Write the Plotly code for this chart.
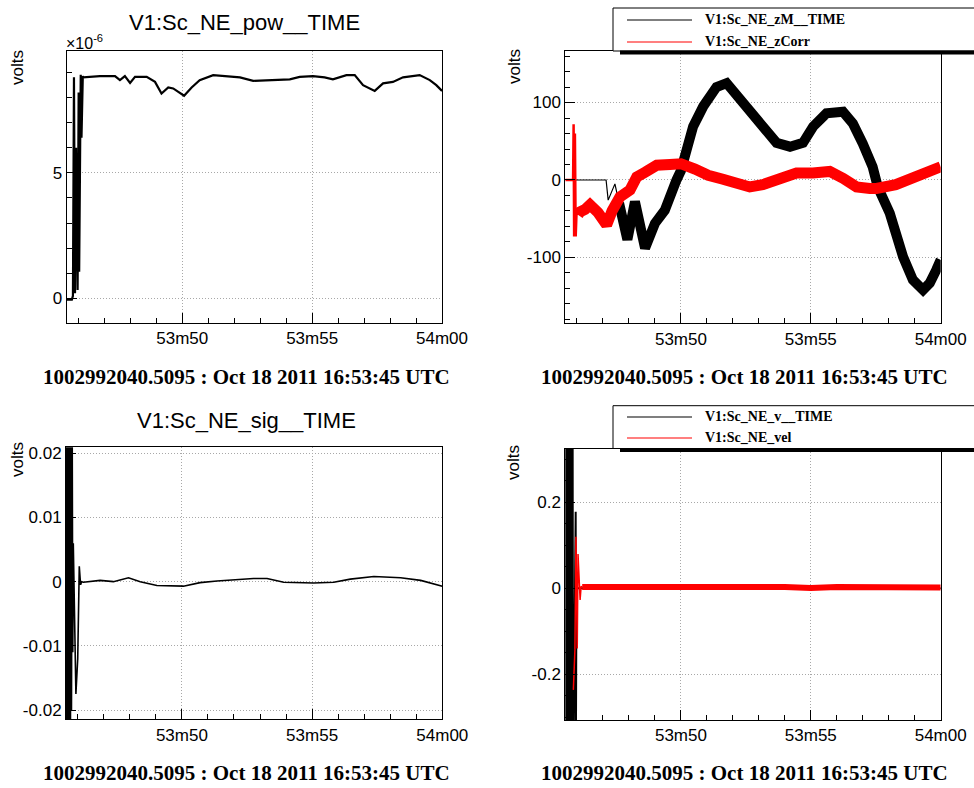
import plotly.graph_objects as go

W, H = 974, 788


def px(x):
    return x / W


def py(y):
    return 1 - y / H


SANS = "Liberation Sans, Arial, sans-serif"
SERIF = "Liberation Serif, Times New Roman, serif"

# ---------------- shared time axis (seconds of 16:53) ----------------
T0, T1 = 45.55, 60.0
X_TICKVALS = [50, 55, 60]
X_TICKTEXT = ["53m50", "53m55", "54m00"]
DATE_LABEL = "1002992040.5095 : Oct 18 2011 16:53:45 UTC"

# ---------------- panel 1: V1:Sc_NE_pow__TIME (units of 1e-6) ----------------
pow_t = [45.55, 45.75, 45.79, 45.83, 45.87, 45.91, 45.97, 46.01, 46.03, 46.05,
         46.09, 46.12, 46.17, 46.19, 46.83, 47.41, 47.60, 47.79, 47.99, 48.18,
         48.63, 48.95, 49.20, 49.46, 49.65, 49.84, 50.07, 50.36, 50.67, 51.19,
         51.70, 52.22, 52.73, 53.50, 54.14, 54.52, 55.03, 55.48, 55.80, 56.32,
         56.64, 56.96, 57.41, 57.73, 58.11, 58.50, 59.14, 59.53, 59.78, 60.0]
pow_v = [-0.05, -0.05, 0.1, 8.8, 0.2, 6.0, 0.33, 8.2, 1.06, 5.4,
         8.9, 6.4, 8.85, 8.80, 8.85, 8.85, 8.69, 8.85, 8.58, 8.82,
         8.82, 8.62, 8.16, 8.40, 8.36, 8.22, 8.07, 8.40, 8.69, 8.89,
         8.85, 8.80, 8.66, 8.69, 8.72, 8.82, 8.85, 8.80, 8.72, 8.89,
         8.89, 8.49, 8.26, 8.56, 8.62, 8.80, 8.89, 8.69, 8.49, 8.26]

# ---------------- panel 2: zM__TIME (black) and zCorr (red) ----------------
zm_quiet_t = [45.85, 47.12, 47.20, 47.46, 47.62]
zm_quiet_v = [0, 0, -26, -5, -30]
zm_t = [47.62, 47.94, 48.23, 48.62, 49.0, 49.38, 49.83, 50.0, 50.23,
        50.47, 50.86, 51.37, 51.76, 52.20, 52.65, 53.15, 53.68, 54.20, 54.70,
        55.09, 55.60, 56.24, 56.62, 57.0, 57.38, 57.58, 57.78, 58.04, 58.55,
        58.93, 59.32, 59.58, 59.83, 60.0]
zm_v = [-30, -77, -28, -88, -56, -39, 0, 12, 40,
        69, 95, 120, 125, 107, 90, 65, 48, 43, 48,
        69, 86, 88, 73, 47, 17, -9, -26, -43, -99,
        -129, -142, -133, -116, -103]

zcorr_spike_t = [45.55, 45.85, 45.87, 45.89, 45.92, 45.95, 45.98, 46.04]
zcorr_spike_v = [0, 0, 72, -73, 60, -73, -45, -41]
zcorr_t = [46.04, 46.12, 46.31, 46.50, 46.81, 47.14, 47.35, 47.65, 48.04,
           48.30, 48.62, 49.07, 49.58, 50.0, 50.54, 51.05, 51.62, 52.08, 52.65,
           53.15, 53.80, 54.45, 55.08, 55.73, 56.25, 56.76, 57.27, 57.53, 58.27,
           59.04, 59.58, 60.0]
zcorr_v = [-45, -41, -38, -32, -42, -58, -40, -22, -13,
           4, 10, 19, 20, 21, 14, 6, 1, -4, -9,
           -6, 2, 9, 9, 11, 2, -9, -11, -11, -6,
           4, 10, 17]

# ---------------- panel 3: V1:Sc_NE_sig__TIME ----------------
sig_t = [45.55, 45.57, 45.59, 45.61, 45.63, 45.65, 45.67, 45.685, 45.70, 45.72,
         45.74, 45.76, 45.79, 45.81, 45.83, 45.93, 46.0, 46.06, 46.11, 46.15,
         46.22, 46.86, 47.37, 47.95, 48.40, 49.04, 50.06, 50.70, 51.35, 52.75,
         53.27, 53.91, 55.06, 55.83, 56.47, 57.37, 58.40, 59.17, 60.0]
sig_v = [0.025, -0.025, 0.025, -0.025, 0.025, -0.025, 0.025, -0.025, 0.025, -0.025,
         0.025, -0.020, 0.021, -0.011, 0.006, -0.0175, -0.012, 0.0024, -0.0005, 0.0,
         -0.0001, 0.0002, 0.0, 0.0006, 0.0, -0.0006, -0.0007, -0.00015, 0.0001, 0.0005,
         0.0005, -0.0001, -0.0002, -0.0001, 0.0004, 0.0008, 0.0006, 0.0002, -0.0007]

# ---------------- panel 4: v__TIME (black) and vel (red) ----------------
v_t = [45.55, 45.57, 45.59, 45.61, 45.63, 45.65, 45.67, 45.69, 45.71, 45.73,
       45.75, 45.77, 45.79, 45.81, 45.83, 45.85, 45.95, 45.96, 45.98, 46.0, 60.0]
v_v = [0.5, -0.5, 0.5, -0.5, 0.5, -0.5, 0.5, -0.5, 0.5, -0.5,
       0.5, -0.5, 0.5, -0.5, 0.5, -0.5, 0.178, -0.35, 0.0, 0.0, 0.0]
vel_spike_t = [45.86, 45.92, 45.96, 46.01, 46.04, 46.08, 46.12, 46.16, 46.20]
vel_spike_v = [-0.236, -0.143, 0.12, -0.14, 0.08, 0.0, -0.027, 0.005, 0.003]
vel_t = [46.20, 48.0, 50.0, 52.0, 54.0, 55.0, 56.0, 58.0, 60.0]
vel_v = [0.003, 0.004, 0.003, 0.003, 0.003, 0.001, 0.003, 0.003, 0.002]

fig = go.Figure()


def line(x, y, color, width, ax):
    fig.add_trace(go.Scatter(x=x, y=y, mode="lines", showlegend=False, hoverinfo="skip",
                             line=dict(color=color, width=width),
                             xaxis="x" + ax, yaxis="y" + ax))


line(pow_t, pow_v, "black", 2.2, "")
line(zm_quiet_t, zm_quiet_v, "black", 1.2, "2")
line(zm_t, zm_v, "black", 10, "2")
line(zcorr_spike_t, zcorr_spike_v, "red", 2.5, "2")
line(zcorr_t, zcorr_v, "red", 11, "2")
line(sig_t, sig_v, "black", 1.6, "3")
line(v_t, v_v, "black", 2, "4")
line(vel_spike_t, vel_spike_v, "red", 1.5, "4")
line(vel_t, vel_v, "red", 6, "4")

tickfont = dict(family=SANS, size=17, color="black")
GRID = dict(showgrid=True, gridcolor="#a8a8a8", griddash="1px,2px", gridwidth=1)


def xax(x0, x1, y_anchor):
    return dict(domain=[px(x0), px(x1)], anchor=y_anchor, range=[T0, T1],
                automargin=False,
                tickmode="array", tickvals=X_TICKVALS, ticktext=X_TICKTEXT,
                ticks="inside", ticklen=10, tickcolor="black", tickwidth=1,
                showline=True, linecolor="black", linewidth=1, mirror=True,
                zeroline=False, tickfont=tickfont, **GRID,
                minor=dict(tickmode="linear", tick0=0, dtick=1, ticks="inside",
                           ticklen=5, tickcolor="black", showgrid=False))


def yax(y_top, y_bot, x_anchor, rng, vals, texts, minor_dtick):
    return dict(domain=[py(y_bot), py(y_top)], anchor=x_anchor, range=rng,
                automargin=False,
                tickmode="array", tickvals=vals, ticktext=texts,
                ticks="inside", ticklen=10, tickcolor="black", tickwidth=1,
                showline=True, linecolor="black", linewidth=1, mirror=True,
                zeroline=False, tickfont=tickfont, **GRID,
                minor=dict(tickmode="linear", tick0=0, dtick=minor_dtick, ticks="inside",
                           ticklen=5, tickcolor="black", showgrid=False))


annotations = []
shapes = []


def text(x, y, s, size, family, angle=0, xanchor="center", color="black"):
    annotations.append(dict(x=px(x), y=py(y), xref="paper", yref="paper", text=s,
                            showarrow=False, xanchor=xanchor, yanchor="middle",
                            textangle=angle,
                            font=dict(family=family, size=size, color=color)))


# titles and labels
text(245, 23, "V1:Sc_NE_pow__TIME", 22, SANS)
text(246, 420, "V1:Sc_NE_sig__TIME", 22, SANS)
for xc, yc in [(246, 377), (744, 377), (246, 773), (744, 773)]:
    text(xc, yc, "<b>" + DATE_LABEL + "</b>", 21, SERIF)
for xc, yc in [(17, 68), (514, 67), (17, 460), (514, 463)]:
    text(xc, yc, "volts", 17, SANS, angle=-90)
text(64, 42, "×10<sup>-6</sup>", 16, SANS, xanchor="left")


def legend_box(top, bottom, entries):
    shapes.append(dict(type="rect", xref="paper", yref="paper", layer="above",
                       x0=px(613), x1=px(990), y0=py(bottom), y1=py(top),
                       line=dict(color="black", width=1), fillcolor="white"))
    shapes.append(dict(type="rect", xref="paper", yref="paper", layer="above",
                       x0=px(620), x1=px(990), y0=py(bottom + 3.5), y1=py(bottom - 0.5),
                       line=dict(width=0), fillcolor="black"))
    for (label, color, yc) in entries:
        shapes.append(dict(type="line", xref="paper", yref="paper", layer="above",
                           x0=px(627), x1=px(692), y0=py(yc), y1=py(yc),
                           line=dict(color=color, width=1.2)))
        text(703, yc, "<b>" + label + "</b>", 14, SERIF, xanchor="left")


legend_box(8, 51, [("V1:Sc_NE_zM__TIME", "black", 20), ("V1:Sc_NE_zCorr", "red", 42)])
legend_box(405.7, 448.5, [("V1:Sc_NE_v__TIME", "black", 417), ("V1:Sc_NE_vel", "red", 438)])

fig.update_layout(
    template="none",
    width=W, height=H, autosize=False, margin=dict(l=0, r=0, t=0, b=0, pad=0),
    paper_bgcolor="white", plot_bgcolor="white", showlegend=False,
    xaxis=xax(66.7, 442, "y"),
    yaxis=yax(51, 323, "x", [-0.98, 9.85], [0, 5], ["0", "5"], 1),
    xaxis2=xax(565.3, 940.7, "y2"),
    yaxis2=yax(51, 323.3, "x2", [-185, 166.5], [-100, 0, 100], ["-100", "0", "100"], 20),
    xaxis3=xax(66, 442.3, "y3"),
    yaxis3=yax(447.3, 719.3, "x3", [-0.02144, 0.02093],
               [-0.02, -0.01, 0, 0.01, 0.02], ["-0.02", "-0.01", "0", "0.01", "0.02"], 0.002),
    xaxis4=xax(565.3, 940.7, "y4"),
    yaxis4=yax(449, 720, "x4", [-0.306, 0.324], [-0.2, 0, 0.2], ["-0.2", "0", "0.2"], 0.05),
    annotations=annotations, shapes=shapes,
)

fig.write_html("out.html", config={"responsive": False})
